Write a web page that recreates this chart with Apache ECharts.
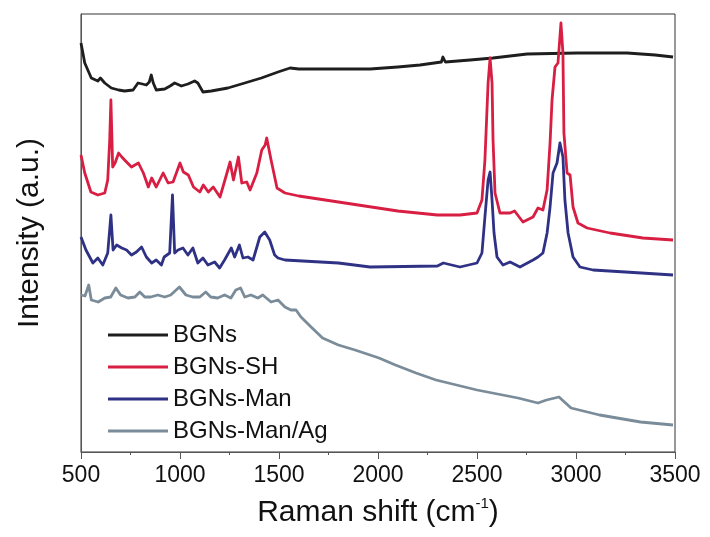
<!DOCTYPE html>
<html>
<head>
<meta charset="utf-8">
<script src="https://cdn.jsdelivr.net/npm/echarts@6/dist/echarts.min.js"></script>
<style>html,body{margin:0;padding:0;background:#fff;}#chart{width:710px;height:537px;}</style>
</head>
<body>
<div id="chart"></div>
<script>
// Legend names
const seriesNames = ['BGNs', 'BGNs-SH', 'BGNs-Man', 'BGNs-Man/Ag'];
// X tick labels
const xTicks = [500, 1000, 1500, 2000, 2500, 3000, 3500];

// BGNs (offset intensity, a.u.)
const bgnsX = [500,519,552,585,598,620,653,690,720,763,788,810,830,845,855,865,880,923,950,973,1007,1040,1074,1090,1116,1158,1242,1327,1411,1495,1556,1600,1800,1960,2100,2212,2320,2328,2340,2465,2581,2753,3005,3258,3400,3490];
const bgnsY = [409,389,374,371,374,369,364,362,361,362,369,368,367,370,377,369,362,363,366,369,366,368,371,369,360,361,364,369,374,380,384,383,383,383,385,387,390,395,390,392,394,398,399,399,397,395];

// BGNs-SH
const shX = [500,519,550,585,620,635,645,651,660,672,690,706,730,755,790,815,840,857,880,915,940,965,1000,1017,1042,1068,1100,1118,1143,1168,1202,1227,1253,1270,1295,1312,1337,1354,1388,1413,1430,1438,1460,1490,1530,1600,1800,2000,2100,2200,2300,2414,2500,2525,2540,2556,2566,2576,2581,2591,2616,2667,2690,2732,2783,2808,2833,2854,2869,2879,2894,2909,2924,2934,2939,2955,2970,2985,3010,3056,3172,3338,3490];
const shY = [297,279,260,257,259,272,312,352,285,289,299,295,290,285,289,279,265,274,265,279,269,270,289,280,277,265,260,267,260,265,255,272,290,272,295,269,270,262,279,302,307,314,292,264,259,256,250,244,241,239,237,237,239,252,292,369,394,369,312,259,239,239,241,230,235,244,242,262,309,352,385,389,429,399,319,279,277,245,229,224,219,214,212];

// BGNs-Man
const manX = [500,525,560,585,610,635,651,662,680,706,730,755,780,806,830,857,880,906,920,948,962,973,990,1015,1040,1065,1090,1116,1141,1175,1200,1225,1259,1276,1300,1318,1343,1369,1403,1428,1453,1478,1495,1530,1800,1960,2300,2330,2414,2500,2525,2540,2556,2566,2576,2586,2601,2631,2667,2717,2783,2808,2833,2854,2869,2884,2904,2919,2934,2944,2960,2985,3020,3086,3250,3490];
const manY = [215,202,189,194,187,199,237,202,207,204,202,197,200,205,195,189,192,187,195,199,257,199,202,204,197,204,189,194,187,190,184,192,204,195,207,194,195,192,215,220,212,197,194,192,189,185,186,189,185,189,199,235,272,280,252,219,195,187,190,185,192,195,199,219,245,279,289,309,295,252,219,195,185,182,180,177];

// BGNs-Man/Ag
const agX = [500,520,539,552,587,620,650,676,700,737,772,797,822,852,888,923,953,997,1030,1064,1100,1130,1155,1190,1225,1257,1282,1306,1327,1358,1393,1418,1460,1495,1530,1560,1586,1611,1662,1720,1800,1884,2005,2088,2192,2293,2500,2707,2808,2851,2914,2975,3119,3326,3490];
const agY = [157,156,167,152,150,154,155,164,157,154,155,160,155,155,157,155,157,165,157,155,155,160,155,154,157,154,162,164,155,157,154,157,150,152,145,142,142,135,125,114,107,102,94,87,79,72,62,54,49,52,55,44,37,30,27];

const colors = ['#1e1e1e', '#d81e42', '#2f3184', '#7a8c99'];
const xs = [bgnsX, shX, manX, agX];
const ys = [bgnsY, shY, manY, agY];

const chart = echarts.init(document.getElementById('chart'), null, {renderer: 'canvas'});
const font = "'Liberation Sans', Arial, sans-serif";

const series = seriesNames.map((name, i) => ({
  name: name,
  type: 'line',
  showSymbol: false,
  symbol: 'none',
  data: xs[i].map((x, j) => [x, ys[i][j]]),
  lineStyle: {color: colors[i], width: 2.8, join: 'round'},
  itemStyle: {color: colors[i]},
  z: 2 + i
}));

chart.setOption({
  animation: false,
  backgroundColor: '#fff',
  grid: {left: 81, right: 35, top: 14, bottom: 85, show: true, borderColor: '#333', borderWidth: 1, backgroundColor: 'transparent'},
  legend: {
    orient: 'vertical',
    left: 103,
    top: 318,
    itemWidth: 60,
    itemHeight: 3,
    itemGap: 8,
    icon: 'rect',
    textStyle: {fontFamily: font, fontSize: 24, color: '#111', lineHeight: 24},
    data: seriesNames
  },
  xAxis: {
    type: 'value',
    min: 500,
    max: 3500,
    interval: 500,
    name: '{a|Raman shift (cm}{s|-1}{a|)}',
    nameLocation: 'middle',
    nameGap: 44,
    nameTextStyle: {
      fontFamily: font, fontSize: 30, color: '#111',
      rich: {
        a: {fontFamily: font, fontSize: 30, color: '#111', lineHeight: 34},
        s: {fontFamily: font, fontSize: 15, color: '#111', verticalAlign: 'top', lineHeight: 34, padding: [0, 0, 16, 0]}
      }
    },
    axisLine: {show: true, lineStyle: {color: '#555', width: 1}},
    axisTick: {show: true, inside: false, length: 7, lineStyle: {color: '#555'}},
    minorTick: {show: true, splitNumber: 2, length: 3, lineStyle: {color: '#555'}},
    splitLine: {show: false},
    axisLabel: {fontFamily: font, fontSize: 23, color: '#111', margin: 12, formatter: v => xTicks.includes(v) ? String(v) : ''}
  },
  yAxis: {
    type: 'value',
    min: 0,
    max: 438,
    name: 'Intensity (a.u.)',
    nameLocation: 'middle',
    nameGap: 36,
    nameTextStyle: {fontFamily: font, fontSize: 30, color: '#111'},
    axisLine: {show: true, lineStyle: {color: '#555', width: 1}},
    axisTick: {show: false},
    axisLabel: {show: false},
    splitLine: {show: false}
  },
  series: series
});
</script>
</body>
</html>
